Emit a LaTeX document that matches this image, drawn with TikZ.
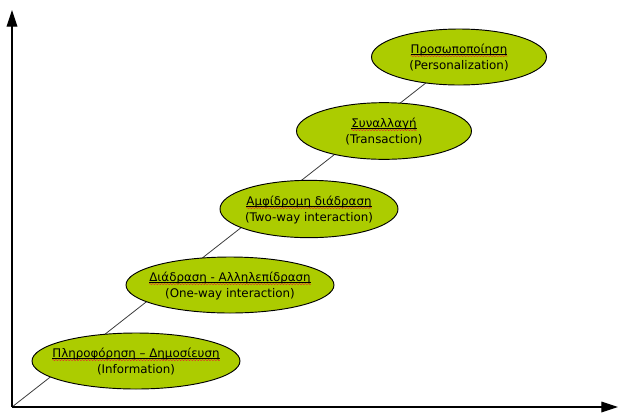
\documentclass[tikz,border=0pt]{standalone}
\usepackage{fontspec}
\newfontfamily\vfont{DejaVu Sans}
\usetikzlibrary{shapes.geometric,arrows.meta,backgrounds,decorations.pathmorphing}
\definecolor{ovalfill}{RGB}{172,204,0}
\definecolor{diagline}{RGB}{60,60,60}
\definecolor{spellred}{RGB}{230,40,40}
\newcommand\myul[1]{\setbox0\hbox{#1}\rlap{\rule[-1.3pt]{\wd0}{0.4pt}}\box0}
\tikzset{
  oval/.style={ellipse, draw=black, line width=0.7pt, fill=ovalfill, inner sep=0pt},
  txt/.style={anchor=base, inner sep=0pt, font=\vfont\fontsize{8.9}{12}\selectfont},
  axis/.style={line width=0.9pt, -{Triangle[length=12.5pt,width=8pt]}},
  diag/.style={draw=diagline, line width=0.6pt},
  spell/.style={draw=spellred, line width=0.3pt, decorate, decoration={snake, amplitude=0.45pt, segment length=2.2pt}}
}
\begin{document}
\begin{tikzpicture}[x=0.75pt,y=-0.75pt]
\useasboundingbox (0,0) rectangle (622,419);
\coordinate (O) at (12,407);
\coordinate (Ytop) at (12,10);
\coordinate (Xend) at (618,407);
\draw[axis] (O) -- (Ytop);
\draw[axis] (O) -- (Xend);

\node[oval, minimum width=156pt, minimum height=42pt] (e1) at (136,361) {};
\node[oval, minimum width=156pt, minimum height=42pt] (e2) at (230,285) {};
\node[oval, minimum width=133.5pt, minimum height=43pt] (e3) at (309,209) {};
\node[oval, minimum width=131.25pt, minimum height=42.5pt] (e4) at (384,131) {};
\node[oval, minimum width=131.25pt, minimum height=42pt] (e5) at (459,57) {};

\begin{pgfonlayer}{background}
\draw[diag] (O) -- (e5.center);
\end{pgfonlayer}

\node[txt] (g1) at ([shift={(0,-4)}]e1.center) {\myul{Πληροφόρηση – Δημοσίευση}};
\node[txt] (t1) at ([shift={(0,12)}]e1.center) {(Information)};
\node[txt] (g2) at ([shift={(0,-4)}]e2.center) {\myul{Διάδραση - Αλληλεπίδραση}};
\node[txt] (t2) at ([shift={(0,12)}]e2.center) {(One-way interaction)};
\node[txt] (g3) at ([shift={(0,-4)}]e3.center) {\myul{Αμφίδρομη διάδραση}};
\node[txt] (t3) at ([shift={(0,12)}]e3.center) {(Two-way interaction)};
\node[txt] (g4) at ([shift={(0,-4)}]e4.center) {\myul{Συναλλαγή}};
\node[txt] (t4) at ([shift={(0,12)}]e4.center) {(Transaction)};
\node[txt] (g5) at ([shift={(0,-4)}]e5.center) {\myul{Προσωποποίηση}};
\node[txt] (t5) at ([shift={(0,12)}]e5.center) {(Personalization)};

\foreach \g in {g1,g2,g3,g4,g5}{
  \draw[spell] ([yshift=-2.3pt]\g.base west) -- ([yshift=-2.3pt]\g.base east);
}
\end{tikzpicture}
\end{document}
